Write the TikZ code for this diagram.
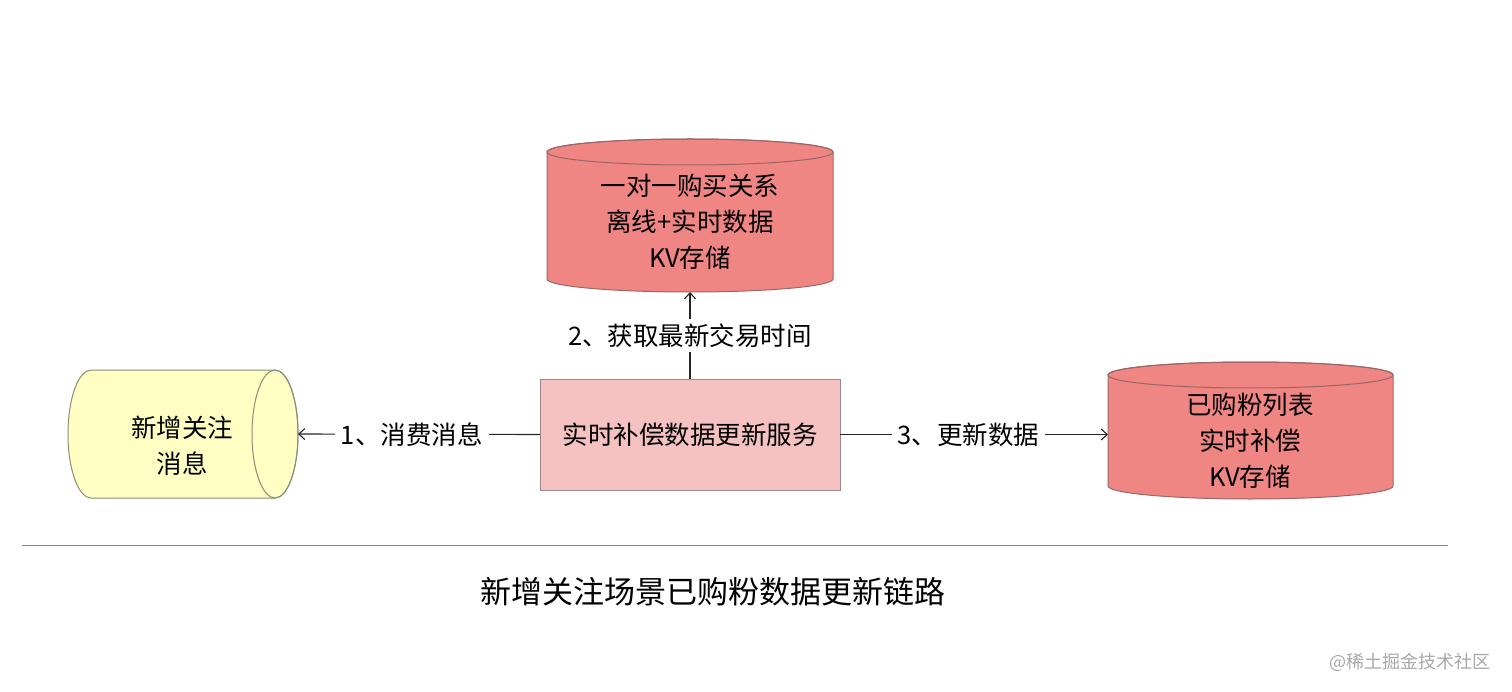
\documentclass[tikz,border=0pt]{standalone}
\usepackage{fontspec}
\setmainfont{Noto Sans CJK SC}
\usetikzlibrary{arrows.meta}
\definecolor{kvred}{HTML}{EF8683}
\definecolor{kvline}{HTML}{9A6665}
\definecolor{svcfill}{HTML}{F5C1C1}
\definecolor{svcline}{HTML}{A08888}
\definecolor{msgfill}{HTML}{FFFFC4}
\definecolor{msgline}{HTML}{8C8C78}
\definecolor{wmgrey}{HTML}{A8A8A8}
\tikzset{
  x=1pt, y=-1pt,
  cylfill/.style={fill=kvred, draw=kvline, line width=1pt},
  msgstyle/.style={fill=msgfill, draw=msgline, line width=1pt},
  anchorbox/.style={inner sep=0pt, outer sep=0pt},
  txt/.style={font=\fontsize{25.5}{36}\selectfont, align=center, inner sep=0pt},
  lbl/.style={font=\fontsize{25.5}{30}\selectfont, fill=white, inner sep=6pt},
  conn/.style={line width=1.1pt, draw=black!85},
  tip/.style={-{Straight Barb[length=6pt,width=11pt,line width=1.1pt]}},
}
\begin{document}
\begin{tikzpicture}
\useasboundingbox (0,0) rectangle (1512,692);
% top cylinder
\fill[cylfill] (547,152) -- (547,279) arc[start angle=180,end angle=0,x radius=143,y radius=13]
  -- (833,152) arc[start angle=0,end angle=-180,x radius=143,y radius=13] -- cycle;
\draw[kvline, line width=1pt] (690,152) ellipse[x radius=143, y radius=13];
\node[anchorbox, minimum width=286pt, minimum height=153pt] (kv1) at (690,215.5) {};
\node[txt] (kv1t) at (690,222) {一对一购买关系\\离线+实时数据\\KV存储};
% right cylinder
\fill[cylfill] (1108,375) -- (1108,486) arc[start angle=180,end angle=0,x radius=142.5,y radius=13]
  -- (1393,375) arc[start angle=0,end angle=-180,x radius=142.5,y radius=13] -- cycle;
\draw[kvline, line width=1pt] (1250.5,375) ellipse[x radius=142.5, y radius=13];
\node[anchorbox, minimum width=285pt, minimum height=137pt] (kv2) at (1250.5,430.5) {};
\node[txt] (kv2t) at (1250,441) {已购粉列表\\实时补偿\\KV存储};
% left horizontal cylinder
\fill[msgstyle] (91,370) -- (275,370) arc[start angle=-90,end angle=90,x radius=23,y radius=64]
  -- (91,498) arc[start angle=90,end angle=270,x radius=23,y radius=64] -- cycle;
\draw[msgline, line width=1pt] (275,434) ellipse[x radius=23, y radius=64];
\node[anchorbox, minimum width=230pt, minimum height=128pt] (msg) at (183,434) {};
\node[txt] (msgt) at (182,445.5) {新增关注\\消息};
% service box
\node[anchorbox, draw=svcline, fill=svcfill, line width=1pt, minimum width=300pt, minimum height=111pt,
  font=\fontsize{25.5}{30}\selectfont] (svc) at (690,434.5) {实时补偿数据更新服务};
% connectors
\draw[conn, tip] (svc.west) -- node[lbl, pos=0.53] {1、消费消息} (msg.east);
\draw[conn, tip] (svc.east) -- node[lbl, pos=0.48] {3、更新数据} (svc.east -| kv2.west);
\draw[conn, tip] (svc.north) -- node[lbl, inner sep=5pt] {2、获取最新交易时间} (kv1.south);
% separator and title
\coordinate (sepL) at (22,545);
\coordinate (sepR) at (1448,545);
\draw[black!45, line width=1pt] (sepL) -- (sepR);
\node[font=\fontsize{31}{36}\selectfont, inner sep=0pt] (title) at (713,592) {新增关注场景已购粉数据更新链路};
\node[font=\fontsize{18}{20}\selectfont, text=wmgrey, inner sep=0pt] (wm) at (1410,662) {@稀土掘金技术社区};
\end{tikzpicture}
\end{document}
